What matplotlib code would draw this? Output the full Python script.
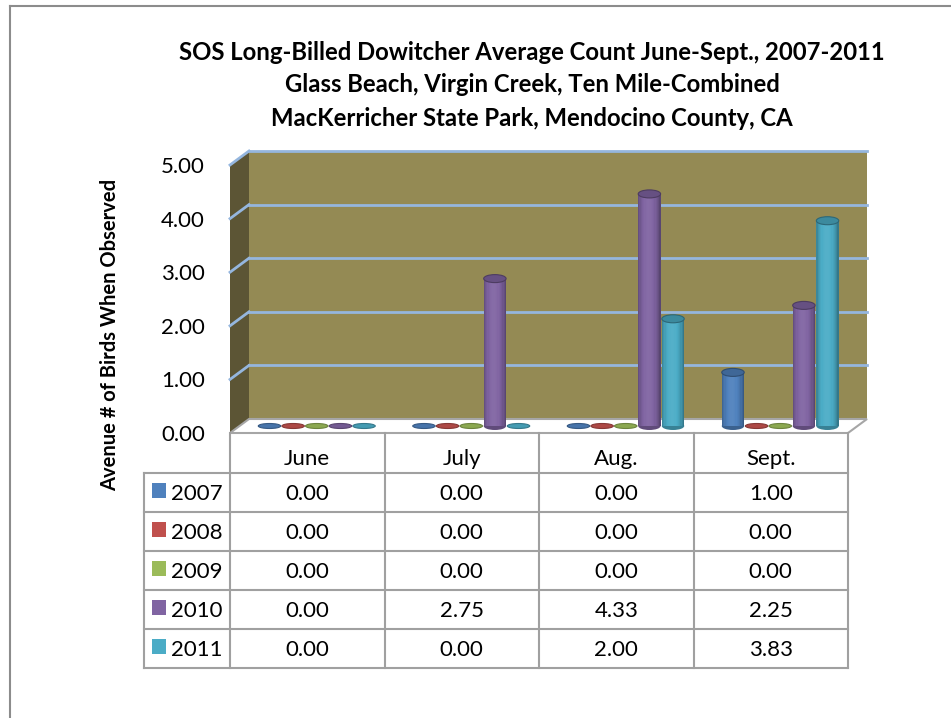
import numpy as np
import matplotlib.pyplot as plt
from matplotlib.patches import Rectangle, Ellipse, Polygon
from matplotlib.lines import Line2D
from matplotlib.colors import to_rgb

plt.rcParams['font.family'] = ['Lato', 'DejaVu Sans']

months = ["June", "July", "Aug.", "Sept."]
years = ["2007", "2008", "2009", "2010", "2011"]
counts_2007 = [0.00, 0.00, 0.00, 1.00]
counts_2008 = [0.00, 0.00, 0.00, 0.00]
counts_2009 = [0.00, 0.00, 0.00, 0.00]
counts_2010 = [0.00, 2.75, 4.33, 2.25]
counts_2011 = [0.00, 0.00, 2.00, 3.83]
series = [counts_2007, counts_2008, counts_2009, counts_2010, counts_2011]
year_colors = ["#4F81BD", "#C0504D", "#9BBB59", "#8064A2", "#4BACC6"]
y_ticks = [0, 1, 2, 3, 4, 5]

title_lines = [
    "SOS Long-Billed Dowitcher Average Count June-Sept., 2007-2011",
    "Glass Beach, Virgin Creek, Ten Mile-Combined",
    "MacKerricher State Park, Mendocino County, CA",
]

fig = plt.figure(figsize=(9.51, 7.18), dpi=100)

# chart area border (top and left edges only)
fig.add_artist(Line2D([10 / 951, 1], [1 - 6 / 718, 1 - 6 / 718], color="#8C8C8C", lw=1.5))
fig.add_artist(Line2D([10 / 951, 10 / 951], [0, 1 - 6 / 718], color="#8C8C8C", lw=1.5))

ax = fig.add_axes([230 / 951, 285 / 718, 618 / 951, 268 / 718])
ax.set_xlim(0, 4)
ax.set_ylim(0, 5)
ax.patch.set_visible(False)
for s in ax.spines.values():
    s.set_visible(False)
ax.set_xticks([])
ax.set_yticks(y_ticks)
ax.set_yticklabels(["%.2f" % t for t in y_ticks], fontsize=16)
ax.tick_params(axis="y", length=0, pad=18)

# fake 3d depth, in data units
DX = 19 / 154.5
DY = 14 / 53.6
grid_c = "#95B6DE"

# side wall, back wall, floor
ax.add_patch(Polygon([(0, 0), (DX, DY), (DX, 5 + DY), (0, 5)], closed=True,
                     fc="#5C5535", ec="none", zorder=1, clip_on=False))
ax.add_patch(Rectangle((DX, DY), 4, 5, fc="#948A54", ec="none", zorder=1, clip_on=False))
for y in y_ticks[1:]:
    ax.plot([DX, 4 + DX], [y + DY, y + DY], color=grid_c, lw=2, zorder=2, clip_on=False)
    ax.plot([0, DX], [y, y + DY], color=grid_c, lw=2, zorder=2, clip_on=False)
ax.add_patch(Polygon([(0, 0), (4, 0), (4 + DX, DY), (DX, DY)], closed=True,
                     fc="white", ec="#A6A6A6", lw=1.5, zorder=2, clip_on=False))

# cylinders
spacing = 0.153
w = 0.145
top_h = 8 / 53.6
disk_h = 5 / 53.6
n_strips = 18


def shade(c, f):
    c = np.array(to_rgb(c))
    if f < 1:
        return tuple(c * f)
    return tuple(c + (1 - c) * (f - 1))


for i, (vals, col) in enumerate(zip(series, year_colors)):
    for j, v in enumerate(vals):
        xc = j + 0.5 + (i - 2) * spacing + DX / 2
        base = DY / 2
        if v <= 0:
            ax.add_patch(Ellipse((xc, base), w, disk_h, fc=shade(col, 0.9),
                                 ec=shade(col, 0.7), lw=0.8, zorder=3, clip_on=False))
            continue
        ax.add_patch(Ellipse((xc, base), w, top_h, fc=shade(col, 0.75), ec="none",
                             zorder=3, clip_on=False))
        edges = np.linspace(xc - w / 2, xc + w / 2, n_strips + 1)
        for k in range(n_strips):
            t = (k + 0.5) / n_strips
            f = 0.7 + 0.4 * np.sin(np.pi * t) ** 0.6 - 0.1 * t
            ax.add_patch(Rectangle((edges[k], base), edges[k + 1] - edges[k], v,
                                   fc=shade(col, f), ec="none", zorder=3, clip_on=False))
        ax.add_patch(Ellipse((xc, base + v), w, top_h, fc=shade(col, 0.8),
                             ec=shade(col, 0.6), lw=0.8, zorder=4, clip_on=False))

# data table below the floor
line_c = "#A0A0A0"
row_h = 39 / 53.6
head_b = -40 / 53.6
lab_l = -86 / 154.5
bottom = head_b - len(years) * row_h
for x in range(5):
    ax.plot([x, x], [0, bottom], color=line_c, lw=1.5, zorder=2, clip_on=False)
ax.plot([lab_l, lab_l], [head_b, bottom], color=line_c, lw=1.5, clip_on=False)
for k in range(len(years) + 1):
    yy = head_b - k * row_h
    ax.plot([lab_l, 4], [yy, yy], color=line_c, lw=1.5, clip_on=False)

for j, m in enumerate(months):
    ax.text(j + 0.5, head_b / 2 - 0.12, m, ha="center", va="center", fontsize=16)

for i, (yr, vals, col) in enumerate(zip(years, series, year_colors)):
    yc = head_b - (i + 0.5) * row_h
    ax.add_patch(Rectangle((lab_l + 8 / 154.5, yc - 0.1), 14 / 154.5, 15 / 53.6,
                           fc=col, ec="none", clip_on=False))
    ax.text(lab_l + 27 / 154.5, yc - 0.03, yr, ha="left", va="center", fontsize=16)
    for j, v in enumerate(vals):
        ax.text(j + 0.5, yc - 0.03, "%.2f" % v, ha="center", va="center", fontsize=16)

for k, line in enumerate(title_lines):
    fig.text(532 / 951, 1 - (52 + 33 * k) / 718, line, ha="center", va="center",
             fontsize=17.2, fontweight="bold")

fig.text(110 / 951, 1 - 335 / 718, "Avenue # of Birds When Observed", rotation=90,
         ha="center", va="center", fontsize=14.5, fontweight="bold")

fig.savefig("out.png", dpi=100)
